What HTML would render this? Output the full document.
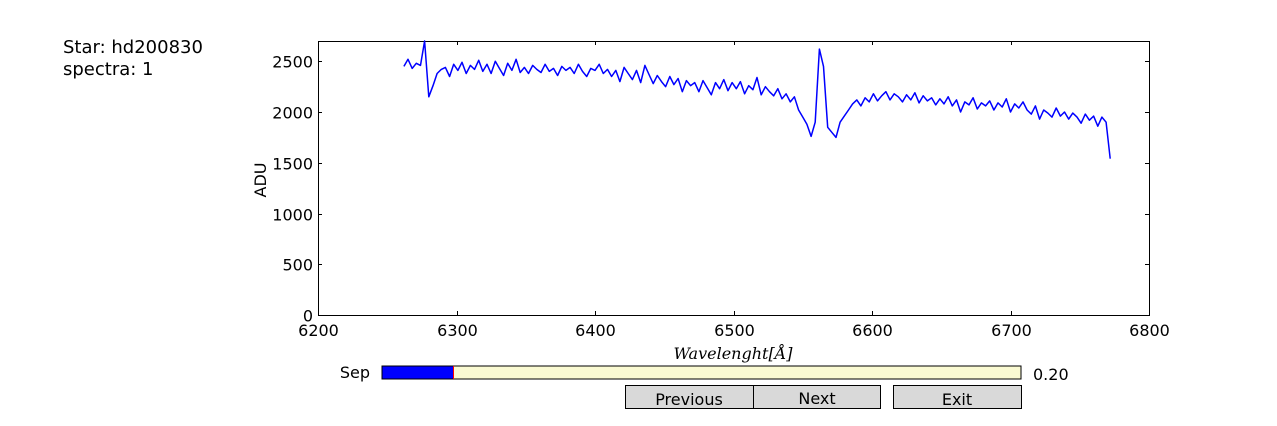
<!DOCTYPE html>
<html><head><meta charset="utf-8"><style>
body{margin:0;background:#fff;width:1277px;height:422px;overflow:hidden;font-family:"DejaVu Sans","Liberation Sans",sans-serif}
svg text{font-family:"DejaVu Sans","Liberation Sans",sans-serif}
</style></head><body>
<svg id="fig" width="1277" height="422">
<text x="63" y="53" font-size="18">Star: hd200830</text>
<text x="63" y="75" font-size="18">spectra: 1</text>
<g id="plot"></g>
<text x="733" y="359" font-size="16" text-anchor="middle" font-style="italic" style="font-family:'DejaVu Serif','Liberation Serif',serif">Wavelenght[Å]</text>
<text transform="translate(266,180) rotate(-90)" font-size="16" text-anchor="middle">ADU</text>
<text x="370" y="378" font-size="16" text-anchor="end">Sep</text>
<g>
<rect x="382" y="366" width="639" height="13" fill="#fafad2" stroke="#000"/>
<rect x="382.5" y="366.5" width="71" height="12" fill="#0000ff"/>
<line x1="453.5" y1="366" x2="453.5" y2="379" stroke="#ff0000"/>
</g>
<text x="1033" y="380" font-size="16">0.20</text>
<g><rect x="625.5" y="385.5" width="128" height="23" fill="#d9d9d9" stroke="#000"/><text x="689" y="405" font-size="16" text-anchor="middle">Previous</text></g>
<g><rect x="753.5" y="385.5" width="127" height="23" fill="#d9d9d9" stroke="#000"/><text x="817" y="404" font-size="16" text-anchor="middle">Next</text></g>
<g><rect x="893.5" y="385.5" width="128" height="23" fill="#d9d9d9" stroke="#000"/><text x="957" y="405" font-size="16" text-anchor="middle">Exit</text></g>
</svg>
<script>
const wlStart = 6262;
const wlStep = 3;
const flux = [
2450,2520,2430,2480,2460,2700,2150,2260,2380,2420,
2440,2350,2470,2410,2490,2380,2460,2420,2510,2400,
2470,2380,2500,2430,2360,2480,2410,2520,2390,2440,
2380,2460,2420,2390,2470,2400,2430,2360,2450,2410,
2440,2380,2470,2400,2350,2430,2410,2470,2380,2420,
2350,2410,2300,2440,2380,2320,2410,2290,2460,2370,
2280,2360,2300,2250,2350,2270,2330,2200,2310,2260,
2290,2200,2310,2240,2170,2290,2230,2320,2210,2290,
2230,2300,2180,2260,2220,2340,2170,2250,2200,2160,
2230,2130,2180,2100,2150,2020,1950,1880,1760,1900,
2620,2450,1850,1800,1750,1900,1960,2020,2080,2120,
2060,2140,2100,2180,2110,2160,2200,2120,2180,2150,
2100,2170,2120,2190,2090,2160,2110,2140,2070,2130,
2080,2150,2060,2120,2000,2100,2070,2140,2030,2090,
2060,2110,2020,2090,2050,2130,2000,2080,2040,2100,
2020,1980,2060,1930,2020,1990,1950,2040,1960,2000,
1930,1990,1950,1890,1980,1920,1960,1860,1950,1900,
1540];
const xTicks = [6200,6300,6400,6500,6600,6700,6800];
const yTicks = [0,500,1000,1500,2000,2500];
const X0=318,X1=1149,Y0=315,Y1=41,xMin=6200,xMax=6800,yMin=0,yMax=2700;
const sx=v=>X0+(v-xMin)/(xMax-xMin)*(X1-X0);
const sy=v=>Y0-(v-yMin)/(yMax-yMin)*(Y0-Y1);
const NS="http://www.w3.org/2000/svg";
const g=document.getElementById('plot');
function mk(t,a){const e=document.createElementNS(NS,t);for(const k in a)e.setAttribute(k,a[k]);g.appendChild(e);return e;}
const frame=mk('rect',{x:X0+.5,y:Y1+.5,width:X1-X0,height:Y0-Y1,fill:'#fff',stroke:'#000'});


let d='';
flux.forEach((v,i)=>{d+=(i?'L':'M')+sx(wlStart+i*wlStep).toFixed(1)+','+sy(v).toFixed(1);});
const line=mk('path',{d:d,fill:'none',stroke:'#0000ff','stroke-width':1.5,'stroke-linejoin':'round'});


xTicks.forEach(t=>{const x=Math.round(sx(t))+.5;
mk('line',{x1:x,y1:Y0,x2:x,y2:Y0-4,stroke:'#000'});mk('line',{x1:x,y1:Y1,x2:x,y2:Y1+4,stroke:'#000'});
const tx=mk('text',{x:x,y:Y0+21,'font-size':16,'text-anchor':'middle'});tx.textContent=t;

});
yTicks.forEach(t=>{const y=Math.round(sy(t))+.5;
mk('line',{x1:X0,y1:y,x2:X0+4,y2:y,stroke:'#000'});mk('line',{x1:X1,y1:y,x2:X1-4,y2:y,stroke:'#000'});
const ty=mk('text',{x:X0-5,y:y+6,'font-size':16,'text-anchor':'end'});ty.textContent=t;

});
</script>
</body></html>
